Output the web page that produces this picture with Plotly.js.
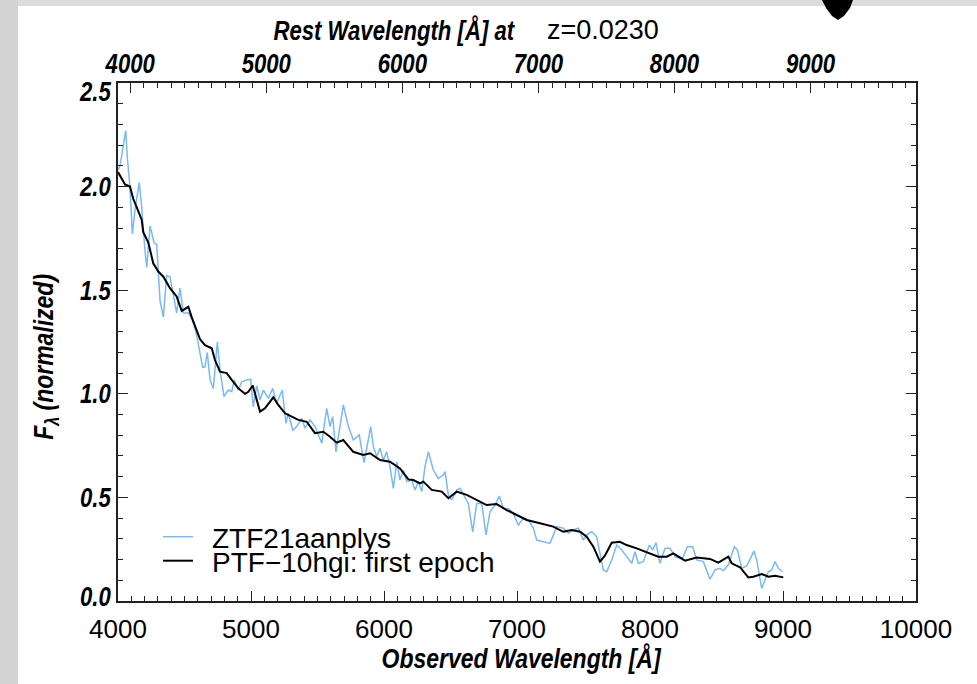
<!DOCTYPE html>
<html>
<head>
<meta charset="utf-8">
<script src="https://cdn.plot.ly/plotly-3.0.1.min.js"></script>
<style>html,body{margin:0;padding:0;background:#fff;}#chart{width:977px;height:684px;}</style>
</head>
<body>
<div id="chart"></div>
<script>
// ---- data ----
const redshift = 0.0230;
const blueName = 'ZTF21aanplys';
const blackName = 'PTF\u221210hgi: first epoch';

const blueWave = [4000,4015,4040,4058,4070,4090,4108,4128,4160,4178,
4203,4216,4241,4271,4291,4316,4341,4366,4391,4416,
4441,4466,4491,4529,4556,4586,4617,4637,4654,4671,
4692,4717,4747,4767,4797,4829,4855,4874,4905,4930,
4968,4998,5017,5043,5068,5093,5130,5163,5193,5235,
5263,5280,5314,5344,5381,5406,5444,5481,5532,5569,
5594,5614,5639,5664,5694,5732,5769,5814,5850,5870,
5900,5920,5945,5970,5995,6020,6045,6070,6096,6120,
6145,6171,6208,6233,6258,6284,6308,6333,6371,6408,
6446,6459,6484,6509,6547,6572,6609,6634,6667,6697,
6735,6767,6797,6835,6867,6897,6935,6972,7010,7048,
7085,7123,7148,7198,7248,7299,7348,7386,7423,7461,
7499,7524,7562,7599,7624,7649,7675,7712,7750,7787,
7825,7863,7887,7912,7950,7995,8020,8045,8075,8113,
8150,8188,8226,8251,8281,8321,8351,8401,8451,8489,
8526,8551,8589,8634,8657,8690,8727,8782,8802,8840,
8865,8890,8915,8940,8965,8998];
const blueFlux = [2.08,2.10,2.20,2.27,2.14,2.00,1.77,1.89,2.02,1.90,
1.69,1.61,1.81,1.73,1.72,1.45,1.37,1.57,1.565,1.47,
1.39,1.51,1.39,1.39,1.36,1.30,1.203,1.128,1.13,1.20,
1.067,1.026,1.25,1.115,0.986,1.018,1.01,1.067,1.018,1.058,
1.067,1.07,0.938,1.038,0.97,1.018,0.978,1.026,0.954,1.018,
0.858,0.906,0.825,0.842,0.882,0.834,0.874,0.842,0.761,0.93,
0.842,0.89,0.72,0.817,0.946,0.842,0.777,0.801,0.668,0.737,
0.842,0.745,0.697,0.737,0.68,0.72,0.648,0.544,0.672,0.584,
0.632,0.576,0.584,0.536,0.576,0.528,0.648,0.72,0.632,0.592,
0.608,0.624,0.512,0.487,0.536,0.544,0.503,0.471,0.334,0.471,
0.471,0.319,0.431,0.463,0.507,0.447,0.447,0.423,0.367,0.399,
0.391,0.351,0.294,0.286,0.278,0.359,0.351,0.327,0.343,0.351,
0.294,0.319,0.334,0.31,0.238,0.15,0.141,0.198,0.27,0.246,
0.214,0.182,0.238,0.182,0.19,0.27,0.246,0.281,0.182,0.254,
0.254,0.214,0.206,0.214,0.262,0.262,0.198,0.19,0.105,0.15,
0.158,0.146,0.174,0.262,0.246,0.158,0.169,0.241,0.198,0.061,
0.101,0.141,0.15,0.19,0.158,0.141];

const blackWave = [4000,4053,4090,4115,4141,4178,4190,4228,4265,4303,
4341,4391,4441,4479,4529,4554,4617,4654,4705,4729,
4767,4817,4855,4905,4955,4980,5013,5043,5068,5105,
5168,5205,5256,5306,5356,5419,5481,5544,5594,5644,
5694,5769,5844,5895,5970,6045,6120,6183,6220,6271,
6296,6359,6434,6484,6547,6622,6697,6772,6847,6922,
6998,7073,7173,7273,7348,7411,7474,7524,7574,7624,
7662,7712,7774,7824,7900,8000,8062,8126,8175,8263,
8351,8451,8514,8589,8614,8677,8739,8777,8840,8890,
8940,9002];
const blackFlux = [2.07,2.01,2.00,1.94,1.90,1.84,1.78,1.73,1.63,1.59,
1.565,1.51,1.47,1.40,1.42,1.37,1.263,1.235,1.22,1.163,
1.107,1.10,1.067,1.026,1.00,1.01,1.04,0.97,0.914,0.93,
0.983,0.946,0.906,0.89,0.874,0.865,0.81,0.817,0.793,0.764,
0.777,0.72,0.705,0.713,0.68,0.672,0.64,0.587,0.584,0.568,
0.576,0.536,0.528,0.496,0.528,0.512,0.487,0.463,0.468,0.439,
0.415,0.391,0.375,0.359,0.334,0.343,0.334,0.31,0.262,0.19,
0.22,0.281,0.286,0.27,0.254,0.23,0.214,0.214,0.23,0.195,
0.21,0.203,0.185,0.214,0.182,0.163,0.114,0.117,0.13,0.117,
0.122,0.114];

const obsRange = [4000, 10000];
const obsTicks = [4000,5000,6000,7000,8000,9000,10000];
const restTicks = [4000,5000,6000,7000,8000,9000];
const fluxRange = [0, 2.5];
const fluxTicks = [0,0.5,1.0,1.5,2.0,2.5];

// ---- styling ----
const W = 977, H = 684, L = 118, R = 61, T = 83, B = 83;
const pw = W - L - R, ph = H - T - B;
const px = x => (x - L) / pw;
const py = y => (H - B - y) / ph;
const BOLDF = '"Liberation Sans", Arial, Helvetica, sans-serif';
const REG = '"Liberation Sans", Arial, Helvetica, sans-serif';
const AX = '#222';
const NARROW_FACTOR = 0.82;   // Helvetica-Narrow look

const traces = [
  {x: blueWave, y: blueFlux, type: 'scatter', mode: 'lines', name: '\u2002' + blueName,
   line: {color: '#7ab9f8', width: 1.5}, legend: 'legend', xaxis: 'x', yaxis: 'y'},
  {x: blackWave, y: blackFlux, type: 'scatter', mode: 'lines', name: '\u2002' + blackName,
   line: {color: '#000000', width: 2}, legend: 'legend2', xaxis: 'x', yaxis: 'y'},
  {x: [restTicks[0]], y: [null], type: 'scatter', mode: 'lines', showlegend: false,
   xaxis: 'x2', yaxis: 'y', hoverinfo: 'skip'}
];

const boldIt = (size) => ({family: BOLDF, size: size, color: '#000', weight: 'bold', style: 'italic'});

const layout = {
  width: W, height: H,
  margin: {l: L, r: R, t: T, b: B, pad: 0},
  paper_bgcolor: '#ffffff', plot_bgcolor: '#ffffff',
  showlegend: true,
  xaxis: {
    range: obsRange, tickvals: obsTicks, ticktext: obsTicks.map(String),
    ticks: 'inside', ticklen: 10, tickwidth: 1.2, tickcolor: AX,
    minor: {dtick: 100, tick0: 0, ticks: 'inside', ticklen: 5, tickwidth: 1, tickcolor: AX, showgrid: false},
    showline: true, linecolor: AX, linewidth: 1.5, mirror: false,
    showgrid: false, zeroline: false,
    tickfont: {family: REG, size: 26, color: '#000'}, ticklabelstandoff: 4
  },
  xaxis2: {
    overlaying: 'x', side: 'top', anchor: 'y',
    range: obsRange.map(v => v / (1 + redshift)),
    tickvals: restTicks, ticktext: restTicks.map(String),
    ticks: 'inside', ticklen: 10, tickwidth: 1.2, tickcolor: AX,
    minor: {dtick: 100, tick0: 0, ticks: 'inside', ticklen: 5, tickwidth: 1, tickcolor: AX, showgrid: false},
    showline: true, linecolor: AX, linewidth: 1.5,
    showgrid: false, zeroline: false,
    tickfont: boldIt(27), ticklabelstandoff: -3
  },
  yaxis: {
    range: fluxRange, tickvals: fluxTicks, ticktext: fluxTicks.map(v => v.toFixed(1)),
    ticks: 'inside', ticklen: 10, tickwidth: 1.2, tickcolor: AX,
    minor: {dtick: 0.1, tick0: 0, ticks: 'inside', ticklen: 5, tickwidth: 1, tickcolor: AX, showgrid: false},
    showline: true, linecolor: AX, linewidth: 1.5, mirror: 'ticks',
    showgrid: false, zeroline: false,
    tickfont: boldIt(27), ticklabelstandoff: 0
  },
  legend: {x: px(158), y: py(537), xanchor: 'left', yanchor: 'middle',
    bgcolor: 'rgba(0,0,0,0)', borderwidth: 0, font: {family: REG, size: 28, color: '#000'}},
  legend2: {x: px(158), y: py(561), xanchor: 'left', yanchor: 'middle',
    bgcolor: 'rgba(0,0,0,0)', borderwidth: 0, font: {family: REG, size: 28, color: '#000'}},
  annotations: [
    {xref: 'paper', yref: 'paper', x: px(394), y: py(30), xanchor: 'center', yanchor: 'middle',
     text: 'Rest Wavelength [\u00c5] at', showarrow: false, font: boldIt(27)},
    {xref: 'paper', yref: 'paper', x: px(545), y: py(30), xanchor: 'left', yanchor: 'middle',
     text: 'z=0.0230', showarrow: false, font: {family: REG, size: 27, color: '#000'}},
    {xref: 'paper', yref: 'paper', x: px(522), y: py(658), xanchor: 'center', yanchor: 'middle',
     text: 'Observed Wavelength [\u00c5]', showarrow: false, font: boldIt(28)},
    {xref: 'paper', yref: 'paper', x: px(45), y: py(357), xanchor: 'center', yanchor: 'middle',
     text: 'F<sub>\u03bb</sub> (normalized)', showarrow: false, textangle: -90, font: boldIt(28)}
  ],
  shapes: [
    {type: 'rect', xref: 'paper', yref: 'paper', x0: px(0), x1: px(18), y0: py(H), y1: py(0),
     fillcolor: '#d3d3d3', line: {width: 0}, layer: 'above'},
    {type: 'rect', xref: 'paper', yref: 'paper', x0: px(18), x1: px(W), y0: py(6), y1: py(0),
     fillcolor: '#dcdcdc', line: {width: 0}, layer: 'above'},
    {type: 'path', xref: 'paper', yref: 'paper', layer: 'above',
     path: `M${px(822)},${py(0)} L${px(853)},${py(0)} L${px(850)},${py(8)} L${px(844)},${py(16)} L${px(838)},${py(20)} L${px(832)},${py(16)} L${px(826)},${py(8)} Z`,
     fillcolor: '#000', line: {width: 0}}
  ]
};

function narrow(el) {
  const len = el.getComputedTextLength();
  if (len > 0) {
    el.setAttribute('textLength', (len * NARROW_FACTOR).toFixed(2));
    el.setAttribute('lengthAdjust', 'spacingAndGlyphs');
  }
}

// end labels of the y axis sit slightly inside, as in the reference
const yLabelNudge = {'2.5': 9, '0.0': -4};

Plotly.newPlot('chart', traces, layout, {displayModeBar: false, responsive: false}).then(gd => {
  gd.querySelectorAll('g.x2tick text, g.ytick text').forEach(narrow);
  gd.querySelectorAll('g.ytick text').forEach(el => {
    const d = yLabelNudge[el.textContent.trim()];
    if (d) el.setAttribute('y', (parseFloat(el.getAttribute('y') || '0') + d).toFixed(2));
  });
  const ann = gd.querySelectorAll('g.annotation text.annotation-text');
  [0, 2, 3].forEach(i => { if (ann[i]) narrow(ann[i]); });
});
</script>
</body>
</html>
